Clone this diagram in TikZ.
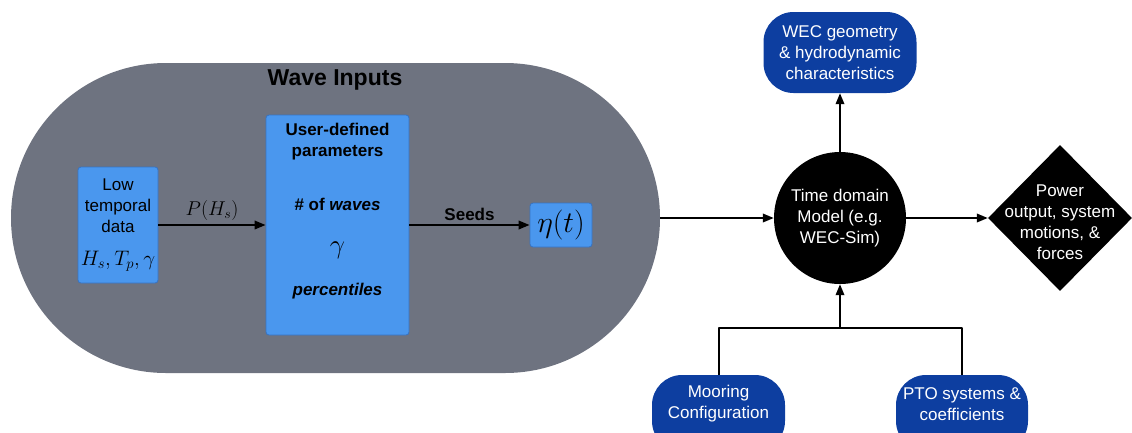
\RequirePackage{fix-cm}
\documentclass[tikz,border=0pt]{standalone}
\usepackage{amsmath}
\usepackage{fontspec}
\setmainfont{Liberation Sans}
\usetikzlibrary{shapes.geometric,arrows.meta}

\definecolor{wavegray}{RGB}{110,115,128}
\definecolor{inblue}{RGB}{74,151,238}
\definecolor{inedge}{RGB}{55,115,195}
\definecolor{wecblue}{RGB}{13,62,160}

\begin{document}
\begin{tikzpicture}[x=1pt, y=-1pt, >={Triangle[length=11pt,width=8.5pt]}, line join=round,
	font=\fontsize{17}{21}\selectfont,
	inbox/.style={draw=inedge, fill=inblue, line width=0.8pt, rounded corners=3pt, align=center, inner sep=2pt},
	darkbox/.style={fill=wecblue, text=white, rounded corners=30pt, align=center, inner sep=2pt},
	whitetext/.style={text=white, align=center, inner sep=0pt},
	flow/.style={->, line width=2pt}]
	\useasboundingbox (0,0) rectangle (1132,432);
	
	% WAVE INPUTS: grey stadium with its three blocks
	\node (waves) [fill=wavegray, rounded corners=155pt, minimum width=649pt, minimum height=310pt] at (335.5,218) {};
	\node (title) [font=\fontsize{23}{27}\selectfont\bfseries] at (335,80) {Wave Inputs};
	
	\node (low) [inbox, minimum width=80pt, minimum height=116pt] at (118,225)
		{Low\\temporal\\data\\[12pt]{\fontsize{21}{25}\selectfont$H_s,T_p,\gamma$}};
	\node (param) [inbox, minimum width=143pt, minimum height=220pt] at (337.5,225) {};
	\node (paramtext) [anchor=north, align=center, inner sep=0pt, yshift=-8pt, font=\fontsize{17}{21}\selectfont\bfseries] at (param.north)
		{User-defined\\parameters\\[33pt]\# of \textit{waves}\\[22pt]{\fontsize{27}{21}\selectfont$\gamma$}\\[21pt]\textit{percentiles}};
	\node (eta) [inbox, minimum width=62pt, minimum height=44pt] at (561,225)
		{\fontsize{30}{30}\selectfont$\eta(t)$};
	
	\draw[flow] (low.east) -- node[above, font=\fontsize{20}{22}\selectfont] {$P(H_s)$} (param.west);
	\draw[flow] (param.east) -- node[above, font=\fontsize{17}{21}\selectfont\bfseries] {Seeds} (eta.west);
	
	% TIME DOMAIN MODEL and the blocks round it
	\node (model) [circle, fill=black, text=white, minimum size=132pt, inner sep=0pt, align=center] at (840,218)
		{Time domain\\Model (e.g.\\WEC-Sim)};
	\node (result) [diamond, fill=black, minimum width=144pt, minimum height=146pt, inner sep=0pt] at (1060,218) {};
	\node (resulttext) [whitetext] at (1060,222) {Power\\output, system\\motions, \&\\forces};
	\node (wec) [darkbox, minimum width=153pt, minimum height=81pt] at (840,52.5)
		{WEC geometry\\\& hydrodynamic\\characteristics};
	\node (mooring) [darkbox, minimum width=133pt, minimum height=76pt] at (718.5,413) {};
	\node (mooringtext) [whitetext] at (718.5,404) {Mooring\\Configuration};
	\node (pto) [darkbox, minimum width=132pt, minimum height=76pt] at (962,413) {};
	\node (ptotext) [whitetext] at (962,404) {PTO systems \&\\coefficients};
	\coordinate (junc) at (840,328);
	
	\draw[flow] (waves.east) -- (model.west);
	\draw[flow] (model.east) -- (result.west);
	\draw[flow] (model.north) -- (wec.south);
	\draw[line width=2pt] (mooring.north) |- (junc) -| (pto.north);
	\draw[flow] (junc) -- (model.south);
\end{tikzpicture}
\end{document}
